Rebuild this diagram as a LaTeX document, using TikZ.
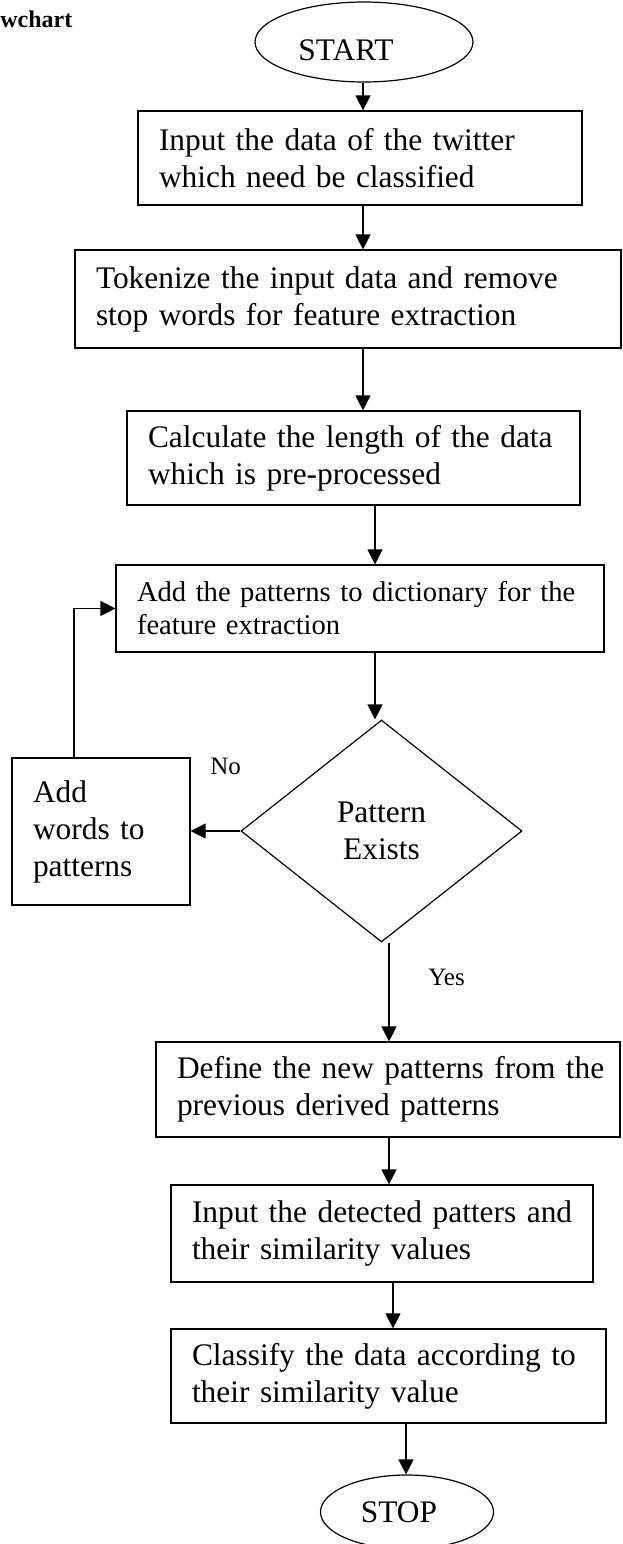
\documentclass[tikz,border=0pt]{standalone}
\usepackage{fontspec}
\setmainfont{Liberation Serif}
\usetikzlibrary{shapes.geometric,arrows.meta}
\newcommand\fsA{\fontsize{15.7pt}{18.5pt}\selectfont}
\newcommand\fsB{\fontsize{14.3pt}{16.5pt}\selectfont}
\newcommand\oneline[1]{\mbox{#1}}
\begin{document}
\begin{tikzpicture}[x=0.5pt,y=-0.5pt,
  pbox/.style={draw, line width=0.6pt, rectangle, inner xsep=10.5pt, inner ysep=0pt, align=left, font=\fsA},
  term/.style={draw, line width=0.6pt, ellipse, inner sep=0pt, font=\fsA},
  arr/.style={-{Triangle[length=7.5pt,width=7.5pt]}, line width=0.6pt},
  lbl/.style={font=\fontsize{12.5pt}{14pt}\selectfont, inner sep=0pt}]
\useasboundingbox (0,0) rectangle (622,1544);

\node[anchor=base west, inner sep=0pt, font=\fontsize{12pt}{14pt}\selectfont\bfseries] (title) at (0,27) {wchart};

\node[term, minimum width=109pt, minimum height=40pt] (start) at (364,42) {\hspace*{-18pt}\raisebox{-4pt}[\height][\depth]{START}};

\node[pbox, text width=201pt, minimum height=47pt] (box1) at (360,158) {\oneline{Input the data of the twitter}\\\oneline{which need be classified}};
\node[pbox, text width=252pt, minimum height=49pt] (tok) at (348,299) {\oneline{Tokenize the input data and remove}\\\oneline{stop words for feature extraction}};
\node[pbox, text width=205.5pt, minimum height=47pt] (calc) at (353.5,458) {\oneline{Calculate the length of the data}\\\oneline{which is pre-processed}};
\node[pbox, font=\fsB, text width=223pt, minimum height=43.5pt] (add) at (360,608.5) {\oneline{Add the patterns to dictionary for the}\\\oneline{feature extraction}};
\node[draw, diamond, line width=0.6pt, minimum width=140.5pt, minimum height=111pt, inner sep=0pt, align=center, font=\fsA] (dia) at (381.5,831) {Pattern\\Exists};
\node[pbox, text width=68pt, minimum height=73.5pt] (addw) at (101,831.5) {\oneline{Add}\\\oneline{words to}\\\oneline{patterns}};
\node[pbox, text width=211pt, minimum height=47.5pt] (define) at (388,1089.5) {\oneline{Define the new patterns from the}\\\oneline{previous derived patterns}};
\node[pbox, text width=190pt, minimum height=48.5pt] (inp) at (382,1233.5) {\oneline{Input the detected patters and}\\\oneline{their similarity values}};
\node[pbox, text width=196.5pt, minimum height=47pt] (cls) at (388.5,1376) {\oneline{Classify the data according to}\\\oneline{their similarity value}};
\node[term, minimum width=86.5pt, minimum height=37pt] (stop) at (407,1512) {\hspace*{-8pt}STOP};

\node[lbl, anchor=base west] (no) at (210,774) {No};
\node[lbl, anchor=base west] (yes) at (428,985) {Yes};

\coordinate (c1) at (363,0);
\coordinate (c2) at (375,0);
\coordinate (c3) at (74,0);
\coordinate (c4) at (389,0);
\coordinate (c5) at (393,0);
\coordinate (c6) at (406,0);

\draw[arr] (start.south -| c1) -- (box1.north -| c1);
\draw[arr] (box1.south -| c1) -- (tok.north -| c1);
\draw[arr] (tok.south -| c1) -- (calc.north -| c1);
\draw[arr] (calc.south -| c2) -- (add.north -| c2);
\draw[arr] (add.south -| c2) -- (dia.north -| c2);
\draw[arr] (dia.west) -- (addw.east |- dia.west);
\draw[arr] (addw.north -| c3) |- (add.west);
\draw[arr] (dia.south -| c4) -- (define.north -| c4);
\draw[arr] (define.south -| c4) -- (inp.north -| c4);
\draw[arr] (inp.south -| c5) -- (cls.north -| c5);
\draw[arr] (cls.south -| c6) -- (stop.north -| c6);
\end{tikzpicture}
\end{document}
